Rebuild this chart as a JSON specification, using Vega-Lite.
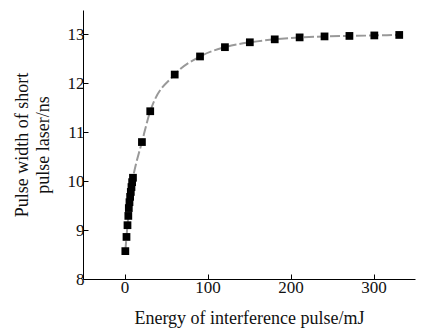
{
  "$schema": "https://vega.github.io/schema/vega-lite/v6.json",
  "width": 332,
  "height": 269,
  "autosize": "none",
  "padding": {"left": 83, "top": 10, "right": 17, "bottom": 50},
  "background": "white",
  "config": {
    "view": {"stroke": null},
    "font": "Liberation Serif",
    "axis": {
      "grid": false,
      "domainColor": "black",
      "domainWidth": 1,
      "tickColor": "black",
      "tickSize": -5,
      "labelFont": "Liberation Serif",
      "titleFont": "Liberation Serif",
      "labelFontSize": 17,
      "titleFontSize": 18,
      "labelColor": "#111111",
      "titleColor": "#111111",
      "titleFontWeight": "normal"
    }
  },
  "data": {
    "values": [
      {"energy": 1, "width": 8.57},
      {"energy": 2.4, "width": 8.86},
      {"energy": 3.6, "width": 9.1},
      {"energy": 4.6, "width": 9.29},
      {"energy": 5.2, "width": 9.45},
      {"energy": 6, "width": 9.57},
      {"energy": 6.8, "width": 9.68},
      {"energy": 7.6, "width": 9.78},
      {"energy": 8.4, "width": 9.88},
      {"energy": 9.2, "width": 9.98},
      {"energy": 10.2, "width": 10.07},
      {"energy": 21, "width": 10.8},
      {"energy": 31, "width": 11.43},
      {"energy": 60.5, "width": 12.18},
      {"energy": 91, "width": 12.55},
      {"energy": 121, "width": 12.74},
      {"energy": 151, "width": 12.84},
      {"energy": 181, "width": 12.9},
      {"energy": 211, "width": 12.94},
      {"energy": 241, "width": 12.96},
      {"energy": 271, "width": 12.97},
      {"energy": 301, "width": 12.98},
      {"energy": 331, "width": 12.99}
    ]
  },
  "encoding": {
    "x": {
      "field": "energy",
      "type": "quantitative",
      "scale": {"domain": [-50, 350], "nice": false, "zero": false},
      "axis": {"values": [0, 100, 200, 300], "title": "Energy of interference pulse/mJ", "labelPadding": 5, "titlePadding": 14}
    },
    "y": {
      "field": "width",
      "type": "quantitative",
      "scale": {"domain": [8, 13.5], "nice": false, "zero": false},
      "axis": {"values": [8, 9, 10, 11, 12, 13], "title": ["Pulse width of short", "pulse laser/ns"], "titleLineHeight": 21, "labelPadding": 4, "titlePadding": 15}
    }
  },
  "layer": [
    {
      "mark": {"type": "line", "color": "#999999", "strokeWidth": 2, "strokeDash": [10, 3], "interpolate": "monotone"}
    },
    {
      "mark": {"type": "point", "shape": "square", "filled": true, "color": "black", "opacity": 1, "size": 60}
    }
  ]
}
